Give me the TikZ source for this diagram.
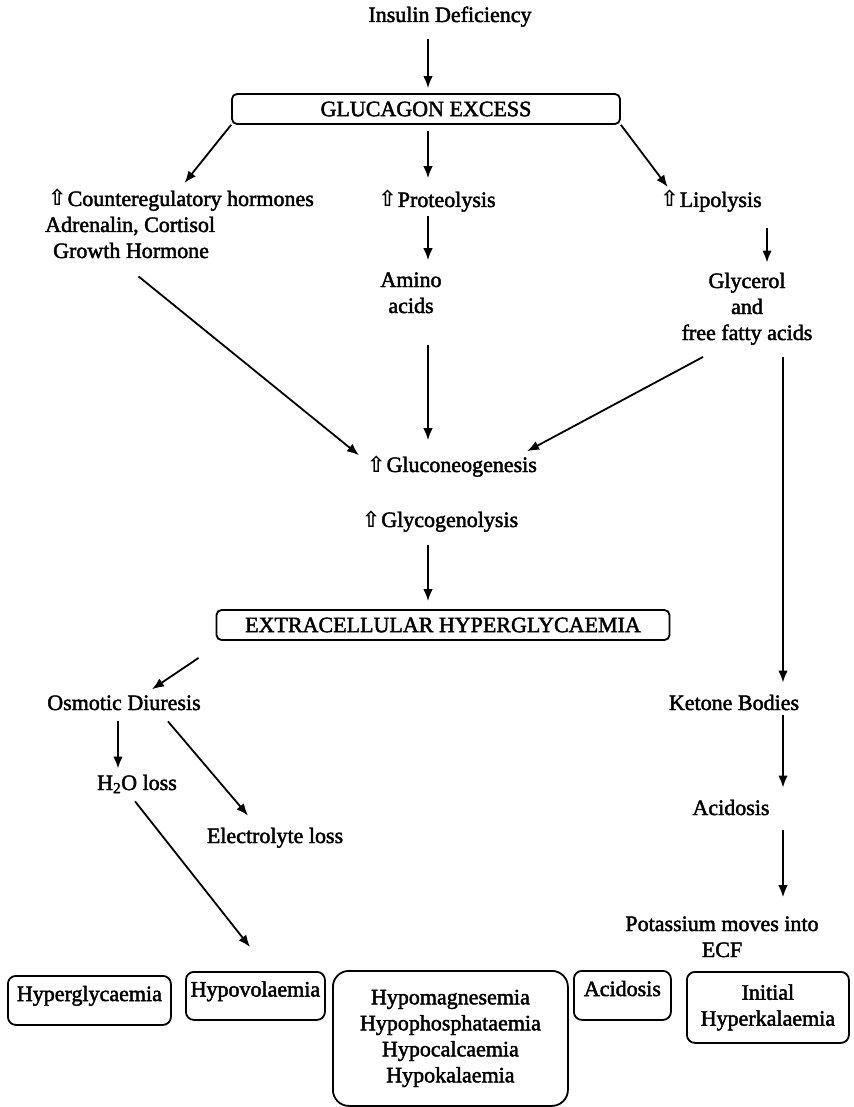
\documentclass[tikz,border=0pt]{standalone}
\usepackage{fontspec}
\setmainfont{Liberation Serif}[FakeBold=2]
\newfontfamily\arrowfont{DejaVu Sans Bold}
\usetikzlibrary{arrows.meta}
\newcommand{\rise}{{\arrowfont\fontsize{22}{22}\selectfont ⇧}\kern1pt}

\begin{document}
\begin{tikzpicture}[x=1pt,y=-1pt,
  txt/.style={font=\fontsize{22}{26}\selectfont,inner sep=0pt,align=center},
  box/.style={txt,draw,line width=1.8pt,rounded corners=8pt},
  arr/.style={-{Latex[length=12pt,width=9.5pt]},line width=1.8pt}]
\useasboundingbox (0,0) rectangle (853,1107);

\coordinate (sx) at (428,0);
\coordinate (lx) at (767,0);
\coordinate (kx) at (783,0);
\coordinate (hx) at (118,0);
\coordinate (h2oend) at (250,947);

\node[txt,anchor=base] (ins) at (450,22) {Insulin Deficiency};
\node[box,rounded corners=5pt,minimum width=388pt,minimum height=30pt] (gluc) at (426,109) {GLUCAGON EXCESS};

\node[txt,anchor=base west,align=left] (counter) at (45,258) {\hspace*{3pt}\rise Counteregulatory hormones\\Adrenalin, Cortisol\\\hspace*{8pt}Growth Hormone};
\node[txt,anchor=base] (prot) at (437,207) {\rise Proteolysis};
\node[txt,anchor=base] (lipo) at (711,207) {\rise Lipolysis};
\node[txt,anchor=base] (amino) at (411,313) {Amino\\acids};
\node[txt,anchor=base] (glyc) at (747,340) {Glycerol\\and\\free fatty acids};
\node[txt,anchor=base] (gneo) at (452,472) {\rise Gluconeogenesis};
\node[txt,anchor=base] (glycog) at (440,527) {\rise Glycogenolysis};
\node[box,rounded corners=5pt,minimum width=453pt,minimum height=30pt] (ecf) at (443,625) {EXTRACELLULAR HYPERGLYCAEMIA};

\node[txt,anchor=base] (osm) at (124,710) {Osmotic Diuresis};
\node[txt,anchor=base] (h2o) at (137,790) {H\textsubscript{2}O loss};
\node[txt,anchor=base] (elec) at (275,843) {Electrolyte loss};
\node[txt,anchor=base] (ket) at (734,710) {Ketone Bodies};
\node[txt,anchor=base] (acid) at (731,815) {Acidosis};
\node[txt,anchor=base] (pot) at (722,957) {Potassium moves into\\ECF};

\node[box,anchor=north west,minimum width=163pt,minimum height=49pt,text depth=14pt] (hyper) at (7,975) {Hyperglycaemia};
\node[box,anchor=north west,minimum width=139pt,minimum height=48pt,text depth=14pt] (hypovol) at (185,971) {Hypovolaemia};
\node[box,anchor=north west,minimum width=235pt,minimum height=135pt,rounded corners=16pt] (hypoel) at (332,970) {Hypomagnesemia\\Hypophosphataemia\\Hypocalcaemia\\Hypokalaemia};
\node[box,anchor=north west,minimum width=97pt,minimum height=49pt,text depth=14pt] (acidbox) at (573,970) {Acidosis};
\node[box,anchor=north west,minimum width=162pt,minimum height=71pt] (hyperk) at (686,971) {Initial\\Hyperkalaemia};

\draw[arr,shorten <=12pt,shorten >=5pt] (ins.south -| sx) -- (gluc.north -| sx);
\draw[arr,shorten >=8pt] (gluc.south west) -- (counter.north);
\draw[arr,shorten <=6pt,shorten >=12pt] (gluc.south -| sx) -- (prot.north -| sx);
\draw[arr,shorten >=4pt] (gluc.south east) -- ([xshift=10pt]lipo.north west);
\draw[arr,shorten <=4pt,shorten >=12pt] (prot.south -| sx) -- (amino.north -| sx);
\draw[arr,shorten <=16pt,shorten >=10pt] (lipo.south -| lx) -- (glyc.north -| lx);
\draw[arr] ([xshift=-41pt,yshift=-18pt]counter.south) -- ([xshift=-8pt]gneo.north west);
\draw[arr,shorten <=32pt,shorten >=15pt] (amino.south -| sx) -- (gneo.north -| sx);
\draw[arr] ([xshift=-44pt,yshift=-12pt]glyc.south) -- ([xshift=-10pt,yshift=4pt]gneo.north east);
\draw[arr,shorten <=13pt,shorten >=8pt] (glycog.south -| sx) -- (ecf.north -| sx);

\draw[arr] ([xshift=-17pt,yshift=-17pt]ecf.south west) -- ([xshift=28pt,yshift=6pt]osm.north);
\draw[arr,shorten <=11pt,shorten >=6pt] (osm.south -| hx) -- (h2o.north -| hx);
\draw[arr] ([xshift=44pt,yshift=-11pt]osm.south) -- ([xshift=-27pt,yshift=12pt]elec.north);
\draw[arr] ([xshift=-2pt,yshift=-8pt]h2o.south) -- (h2oend);

\draw[arr,shorten <=12pt,shorten >=12pt] (glyc.south -| kx) -- (ket.north -| kx);
\draw[arr,shorten <=5pt,shorten >=12pt] (ket.south -| kx) -- (acid.north -| kx);
\draw[arr,shorten <=15pt,shorten >=19pt] (acid.south -| kx) -- (pot.north -| kx);
\end{tikzpicture}
\end{document}
